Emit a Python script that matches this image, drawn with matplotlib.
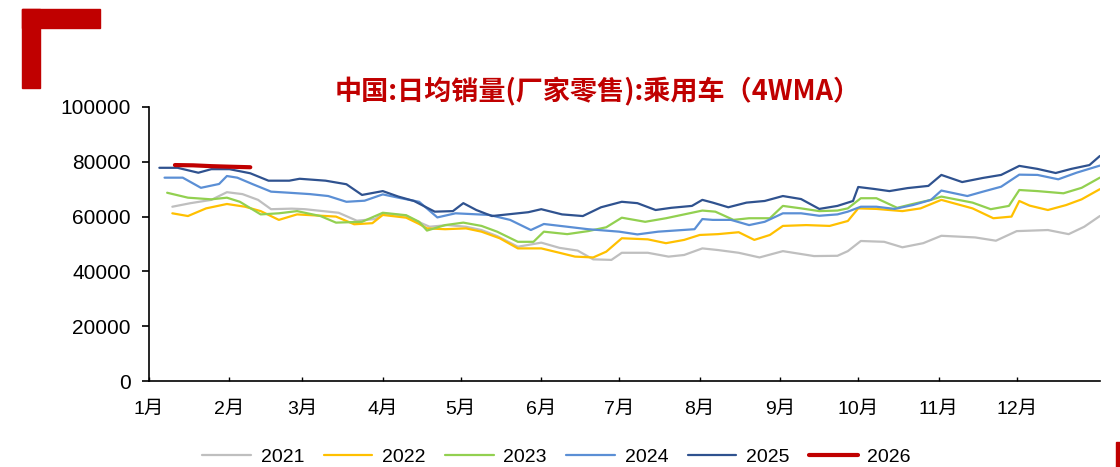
import matplotlib.pyplot as plt
from matplotlib.patches import Rectangle

plt.rcParams['font.family'] = ['Liberation Sans', 'Noto Sans CJK SC', 'DejaVu Sans']

# day of year of each weekly point, values in thousand vehicles/day (4WMA)
d2021 = [9, 16, 24, 30, 36, 42, 47, 55, 60, 73, 80, 87, 90, 99, 102, 108, 115, 122, 128, 134,
         142, 151, 158, 165, 171, 178, 182, 192, 200, 206, 213, 219, 227, 235, 244, 256, 265, 269, 274, 283,
         290, 298, 305, 318, 326, 334, 346, 354, 360, 366]
v2021 = [63.6, 64.9, 66.1, 68.9, 68.2, 66.1, 62.7, 62.9, 62.7, 61.4, 58.5, 59.1, 61.2, 60.3, 58.8, 56.3, 56.9, 56.3, 55.1, 52.9,
         49.0, 50.5, 48.6, 47.6, 44.4, 44.2, 46.8, 46.8, 45.4, 46.0, 48.4, 47.8, 46.8, 45.1, 47.4, 45.6, 45.7, 47.4, 51.1, 50.8,
         48.8, 50.3, 53.0, 52.4, 51.2, 54.7, 55.1, 53.6, 56.3, 60.2]

d2022 = [9, 15, 22, 30, 37, 43, 50, 57, 72, 79, 86, 90, 99, 104, 107, 114, 122, 128, 135, 142,
         151, 158, 164, 171, 176, 182, 192, 199, 206, 212, 219, 227, 233, 239, 244, 253, 262, 269, 273, 280,
         290, 297, 305, 317, 325, 332, 335, 339, 346, 353, 359, 366]
v2022 = [61.2, 60.2, 63.0, 64.6, 63.6, 62.0, 58.8, 60.8, 60.0, 57.2, 57.6, 60.6, 59.6, 57.3, 55.7, 55.4, 55.7, 54.5, 52.1, 48.4,
         48.4, 46.8, 45.4, 45.1, 47.2, 52.1, 51.7, 50.3, 51.5, 53.3, 53.6, 54.3, 51.5, 53.3, 56.6, 56.9, 56.6, 58.4, 63.0, 62.8,
         62.0, 63.0, 66.1, 63.0, 59.4, 60.0, 65.7, 64.0, 62.4, 64.2, 66.3, 70.0]

d2023 = [7, 15, 24, 30, 35, 43, 50, 57, 66, 72, 82, 90, 99, 104, 107, 114, 121, 128, 134, 142,
         148, 152, 161, 169, 176, 182, 191, 199, 205, 213, 218, 225, 231, 239, 244, 251, 258, 265, 269, 274,
         280, 288, 294, 301, 305, 317, 324, 331, 335, 342, 352, 359, 366]
v2023 = [68.7, 66.9, 66.3, 66.9, 65.4, 60.8, 61.2, 62.0, 60.2, 57.8, 58.1, 61.4, 60.5, 58.1, 54.9, 56.9, 57.8, 56.6, 54.5, 50.8,
         50.8, 54.5, 53.6, 54.7, 56.1, 59.6, 58.1, 59.4, 60.6, 62.2, 61.8, 58.8, 59.4, 59.4, 63.9, 63.0, 62.0, 62.2, 63.0, 66.7,
         66.7, 63.2, 64.6, 66.1, 67.3, 65.1, 62.7, 63.9, 69.7, 69.3, 68.5, 70.5, 74.2]

d2024 = [6, 13, 20, 27, 30, 34, 40, 47, 54, 62, 69, 76, 83, 90, 97, 104, 111, 118, 131, 139,
         147, 152, 161, 169, 181, 188, 196, 210, 213, 217, 224, 231, 237, 244, 251, 258, 265, 269, 274, 280,
         287, 294, 301, 305, 315, 321, 328, 335, 342, 350, 357, 366]
v2024 = [74.2, 74.2, 70.5, 71.9, 74.8, 74.2, 71.8, 69.1, 68.7, 68.2, 67.5, 65.4, 65.8, 68.1, 66.7, 65.4, 59.7, 61.2, 60.6, 58.8,
         55.1, 57.3, 56.3, 55.4, 54.5, 53.5, 54.5, 55.4, 59.1, 58.8, 58.8, 56.9, 58.1, 61.2, 61.2, 60.3, 60.8, 61.8, 63.6, 63.6,
         62.8, 64.2, 66.1, 69.5, 67.5, 69.1, 70.9, 75.3, 75.2, 73.6, 76.0, 78.6]

d2025 = [4, 11, 19, 24, 31, 39, 46, 54, 58, 68, 76, 82, 90, 96, 102, 110, 117, 121, 126, 132,
         139, 146, 151, 159, 167, 174, 182, 188, 195, 201, 209, 213, 217, 223, 230, 237, 244, 251, 258, 265,
         271, 273, 279, 285, 292, 300, 305, 313, 321, 328, 335, 342, 349, 355, 362, 366]
v2025 = [77.8, 77.8, 76.0, 77.3, 77.3, 75.8, 73.1, 73.1, 73.8, 73.1, 71.8, 67.9, 69.3, 67.3, 65.7, 61.8, 62.0, 64.9, 62.4, 60.2,
         60.9, 61.6, 62.7, 60.8, 60.2, 63.4, 65.4, 64.9, 62.4, 63.2, 63.9, 66.1, 65.1, 63.4, 65.1, 65.7, 67.5, 66.4, 62.8, 63.9,
         65.7, 70.8, 70.1, 69.3, 70.4, 71.2, 75.2, 72.6, 74.1, 75.2, 78.5, 77.4, 75.9, 77.4, 78.8, 82.1]

d2026 = [10, 17, 24, 31, 39]
v2026 = [78.8, 78.7, 78.4, 78.2, 78.0]

month_days = [0, 31, 59, 90, 120, 151, 181, 212, 243, 273, 304, 334]
month_labels = ['1月', '2月', '3月', '4月', '5月', '6月', '7月', '8月', '9月', '10月', '11月', '12月']

fig = plt.figure(figsize=(11.2, 4.67), dpi=100)
ax = fig.add_axes([0.133, 0.184, 0.849, 0.587])

series = [
    ('2021', d2021, v2021, '#BFBFBF', 1.6),
    ('2022', d2022, v2022, '#FFC000', 1.6),
    ('2023', d2023, v2023, '#92D050', 1.6),
    ('2024', d2024, v2024, '#5B8FD5', 1.6),
    ('2025', d2025, v2025, '#2F528F', 1.6),
    ('2026', d2026, v2026, '#C00000', 3.0),
]
for name, d, v, c, lw in series:
    ax.plot(d, [x * 1000 for x in v], color=c, lw=lw, label=name, solid_capstyle='round')

ax.set_xlim(0, 366)
ax.set_ylim(0, 100000)
ax.set_yticks(range(0, 100001, 20000))
ax.set_xticks(month_days)
ax.set_xticklabels(month_labels)
ax.tick_params(axis='y', direction='out', length=5, width=1.2, pad=8, labelsize=15)
ax.tick_params(axis='x', direction='in', length=3, width=1, pad=14, labelsize=14)
for s in ['top', 'right']:
    ax.spines[s].set_visible(False)
ax.spines['left'].set_linewidth(1.2)
ax.spines['bottom'].set_linewidth(1.2)

fig.text(0.534, 0.803, '中国:日均销量(厂家零售):乘用车（4WMA）', color='#C00000',
         fontsize=19.5, fontweight='bold', ha='center', va='center',
         family=['Noto Sans CJK SC', 'DejaVu Sans'])

# red corner decorations
fig.patches.append(Rectangle((22 / 1120, 1 - 28 / 467), 78 / 1120, 19 / 467,
                             transform=fig.transFigure, color='#C00000'))
fig.patches.append(Rectangle((22 / 1120, 1 - 88 / 467), 18 / 1120, 79 / 467,
                             transform=fig.transFigure, color='#C00000'))
fig.patches.append(Rectangle((1116 / 1120, 0), 4 / 1120, 25 / 467,
                             transform=fig.transFigure, color='#C00000'))

fig.legend(loc='center', bbox_to_anchor=(0.497, 0.022), ncol=6, frameon=False,
           fontsize=14, handlelength=2.5, handletextpad=0.5, columnspacing=1.0)

fig.savefig('out.png', dpi=100)
